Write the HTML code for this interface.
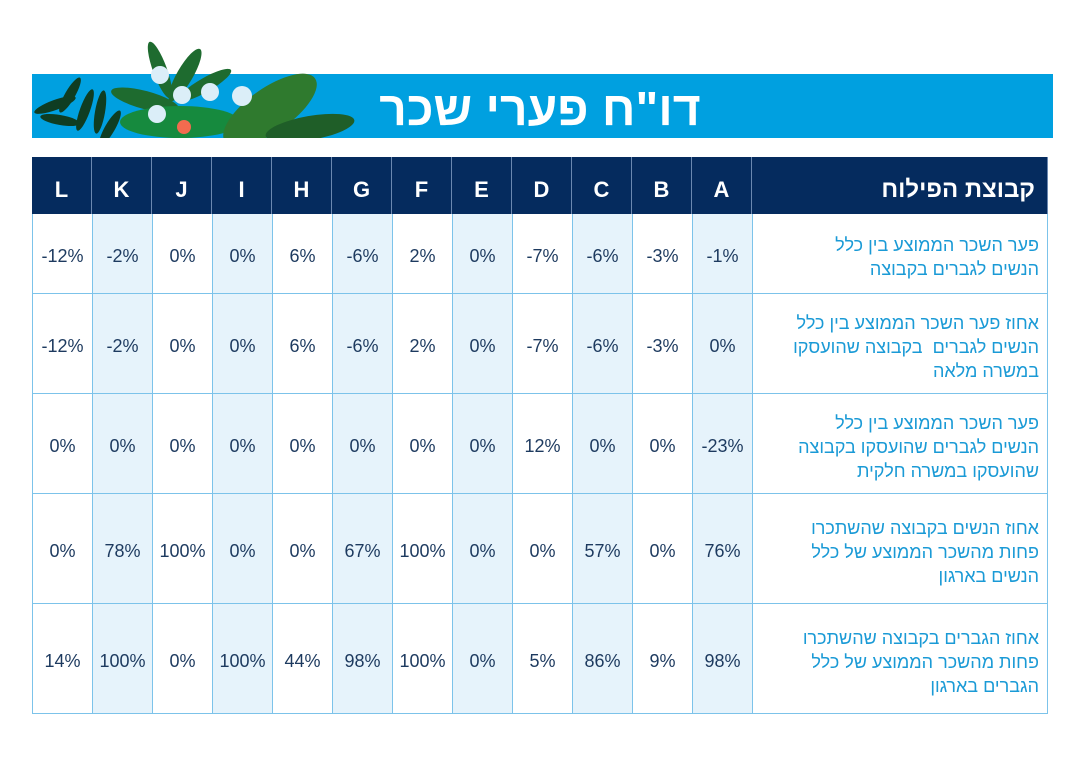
<!DOCTYPE html>
<html><head><meta charset="utf-8">
<style>
body{margin:0;width:1080px;height:780px;background:#fff;position:relative;overflow:hidden;font-family:"Liberation Sans","Noto Sans CJK SC",sans-serif}
#banner{position:absolute;left:32px;top:74px;width:1021px;height:64px;background:#00a0e0}
#title{position:absolute;left:320px;top:74px;width:440px;height:64px;line-height:72px;text-align:center;color:#fff;font-weight:bold;font-size:48px;direction:rtl}
.c{position:absolute;box-sizing:border-box;display:flex;align-items:center;justify-content:center;font-size:18px;color:#1d3a5f;padding-top:6px}
.h{background:#052b5e;color:#fff;font-weight:bold;font-size:22px;border-right:1px solid #6b88b0;padding-top:8px}
.lbl{justify-content:flex-start;direction:rtl;text-align:right;color:#1a9ad6;font-size:18px;line-height:24px;padding-right:8px}
</style></head><body>
<div id="banner"></div>
<svg style="position:absolute;left:0;top:0" width="380" height="140">
<g fill="#0f3d22">
<ellipse cx="55" cy="105" rx="22" ry="5" transform="rotate(-20 55 105)"/>
<ellipse cx="70" cy="95" rx="20" ry="5" transform="rotate(-60 70 95)"/>
<ellipse cx="85" cy="110" rx="22" ry="5" transform="rotate(-70 85 110)"/>
<ellipse cx="100" cy="112" rx="22" ry="5" transform="rotate(-80 100 112)"/>
<ellipse cx="60" cy="120" rx="20" ry="5" transform="rotate(10 60 120)"/>
<ellipse cx="110" cy="128" rx="20" ry="5" transform="rotate(-60 110 128)"/>
</g>
<g fill="#1e6b2f">
<ellipse cx="160" cy="70" rx="30" ry="7" transform="rotate(70 160 70)"/>
<ellipse cx="185" cy="75" rx="30" ry="8" transform="rotate(-60 185 75)"/>
<ellipse cx="205" cy="85" rx="30" ry="7" transform="rotate(-30 205 85)"/>
<ellipse cx="145" cy="100" rx="35" ry="9" transform="rotate(15 145 100)"/>
</g>
<ellipse cx="180" cy="122" rx="60" ry="16" fill="#168a3e"/>
<ellipse cx="270" cy="110" rx="55" ry="22" fill="#2f7a2e" transform="rotate(-35 270 110)"/>
<ellipse cx="310" cy="128" rx="45" ry="12" fill="#1f5e28" transform="rotate(-10 310 128)"/>
<g fill="#dbeef8">
<circle cx="160" cy="75" r="9"/><circle cx="182" cy="95" r="9"/><circle cx="210" cy="92" r="9"/><circle cx="242" cy="96" r="10"/><circle cx="157" cy="114" r="9"/>
</g>
<circle cx="184" cy="127" r="7" fill="#f26b4f"/>
<rect x="32" y="138" width="330" height="2" fill="#fff"/>
</svg>
<div id="title">דו"ח פערי שכר</div>
<div id="tbl"></div>
<script>
const groups=["L","K","J","I","H","G","F","E","D","C","B","A"];
const rowLabels=["פער השכר הממוצע בין כלל<br>הנשים לגברים בקבוצה","אחוז פער השכר הממוצע בין כלל<br>הנשים לגברים&nbsp; בקבוצה שהועסקו<br>במשרה מלאה","פער השכר הממוצע בין כלל<br>הנשים לגברים שהועסקו בקבוצה<br>שהועסקו במשרה חלקית","אחוז הנשים בקבוצה שהשתכרו<br>פחות מהשכר הממוצע של כלל<br>הנשים בארגון","אחוז הגברים בקבוצה שהשתכרו<br>פחות מהשכר הממוצע של כלל<br>הגברים בארגון"];
const row1=["-12%","-2%","0%","0%","6%","-6%","2%","0%","-7%","-6%","-3%","-1%"];
const row2=["-12%","-2%","0%","0%","6%","-6%","2%","0%","-7%","-6%","-3%","0%"];
const row3=["0%","0%","0%","0%","0%","0%","0%","0%","12%","0%","0%","-23%"];
const row4=["0%","78%","100%","0%","0%","67%","100%","0%","0%","57%","0%","76%"];
const row5=["14%","100%","0%","100%","44%","98%","100%","0%","5%","86%","9%","98%"];
const rows=[row1,row2,row3,row4,row5];
const rowY=[214,294,394,494,604,714];
const X0=32,CW=60,LW=296,HY=157;
const t=document.getElementById('tbl');
function cell(x,y,w,h,cls,html){const d=document.createElement('div');d.className='c '+cls;d.style.left=x+'px';d.style.top=y+'px';d.style.width=w+'px';d.style.height=h+'px';d.innerHTML=html;t.appendChild(d);return d;}
groups.forEach((g,i)=>{
 const d=cell(X0+i*CW,HY,CW,rowY[0]-HY,'h',g);
 
 
});
const hl=cell(X0+12*CW,HY,LW,rowY[0]-HY,'h','קבוצת הפילוח');
hl.style.justifyContent='flex-start';hl.style.direction='rtl';hl.style.paddingRight='12px';hl.style.fontSize='24px';


rows.forEach((r,ri)=>{
 const y=rowY[ri],h=rowY[ri+1]-y;
 r.forEach((v,i)=>{
  const d=cell(X0+i*CW,y,CW,h,'',v);
  d.style.background=(i%2==1)?'#e6f3fb':'#fff';
  d.style.borderLeft='1px solid #7cc3ea';d.style.borderBottom='1px solid #7cc3ea';
  
  
 });
 const l=cell(X0+12*CW,y,LW,h,'lbl',rowLabels[ri]);
 l.style.borderLeft='1px solid #7cc3ea';l.style.borderRight='1px solid #7cc3ea';l.style.borderBottom='1px solid #7cc3ea';
 
 
});
</script>
</body></html>
